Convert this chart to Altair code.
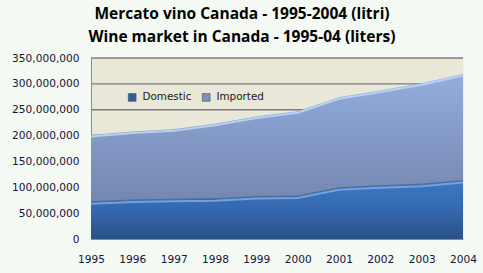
import altair as alt
import pandas as pd

years = [1995, 1996, 1997, 1998, 1999, 2000, 2001, 2002, 2003, 2004]
domestic_m = [72, 75.5, 77, 78, 82, 83, 99, 103, 106, 113]
imported_m = [129, 132.5, 135, 145, 155, 164, 175, 184, 195, 206]
series = ["Domestic", "Imported"]
y_ticks = [0, 50e6, 100e6, 150e6, 200e6, 250e6, 300e6, 350e6]
title_lines = ["Mercato vino Canada - 1995-2004 (litri)",
               "Wine market in Canada - 1995-04 (liters)"]

df = pd.DataFrame({
    "year": years,
    "domestic": [d * 1e6 for d in domestic_m],
    "total": [(d + i) * 1e6 for d, i in zip(domestic_m, imported_m)],
})
long_df = pd.DataFrame({
    "year": years * 2,
    "series": [series[0]] * len(years) + [series[1]] * len(years),
    "value": [d * 1e6 for d in domestic_m] + [i * 1e6 for i in imported_m],
})
grid_df = pd.DataFrame({"tick": y_ticks[1:]})

AX_FONT = "DejaVu Sans"
LBL = "#14143a"

x = alt.X("year:Q",
          scale=alt.Scale(domain=[1995, 2004], nice=False, zero=False),
          axis=alt.Axis(values=years, format="d", title=None, grid=False,
                        ticks=False, labelPadding=15, domainColor="#8c8c8c",
                        labelFont=AX_FONT, labelFontSize=10.6, labelColor=LBL,
                        labelFlush=False, labelOverlap=False))
y_scale = alt.Scale(domain=[0, 350e6], nice=False)
y_axis = alt.Axis(values=y_ticks, format=",d", title=None, grid=False,
                  ticks=False, labelPadding=12,
                  domainColor="#8c8c8c", labelFont=AX_FONT,
                  labelFontSize=10.6, labelColor=LBL, labelOverlap=False)


def Y(field):
    return alt.Y(field, scale=y_scale, axis=y_axis)


grad_imp = alt.Gradient(gradient="linear",
                        stops=[alt.GradientStop(color="#93AEDD", offset=0),
                               alt.GradientStop(color="#8399C6", offset=0.5),
                               alt.GradientStop(color="#7487B0", offset=1)],
                        x1=0, x2=0, y1=0, y2=1)
grad_dom = alt.Gradient(gradient="linear",
                        stops=[alt.GradientStop(color="#3C78C4", offset=0),
                               alt.GradientStop(color="#3568AE", offset=0.5),
                               alt.GradientStop(color="#2A528A", offset=1)],
                        x1=0, x2=0, y1=0, y2=1)

base = alt.Chart(df)

grid = alt.Chart(grid_df).mark_rule(color="#7c7c7c", strokeWidth=1.4).encode(
    y=Y("tick:Q"))
imp_area = base.mark_area(fill=grad_imp).encode(
    x=x, y=Y("total:Q"), y2="domestic:Q")
dom_area = base.mark_area(fill=grad_dom).encode(x=x, y=Y("domestic:Q"))
imp_hl = base.mark_line(color="#B7D2F6", strokeWidth=2, yOffset=1.5).encode(
    x=x, y=Y("total:Q"))
dom_edge = base.mark_line(color="#56668C", strokeWidth=1).encode(
    x=x, y=Y("domestic:Q"))
dom_hl = base.mark_line(color="#6FA3E4", strokeWidth=2, yOffset=2).encode(
    x=x, y=Y("domestic:Q"))

legend_layer = alt.Chart(long_df).mark_point(shape="square", filled=True, size=0).encode(
    x=x, y=Y("value:Q"),
    color=alt.Color("series:N",
                    scale=alt.Scale(domain=series, range=["#2F5E9E", "#7E90B8"]),
                    legend=alt.Legend(orient="none", legendX=36, legendY=34,
                                      direction="horizontal", title=None,
                                      symbolType="square", symbolSize=60,
                                      symbolOpacity=1, symbolStrokeColor="#44506a",
                                      symbolStrokeWidth=0.6, labelFont=AX_FONT,
                                      labelFontSize=10.4, labelColor="#1a1a1a",
                                      labelOffset=5, columnPadding=9)))

chart = alt.layer(grid, imp_area, dom_area, imp_hl, dom_edge, dom_hl, legend_layer).properties(
    width=372, height=181,
    padding={"left": 91, "top": 58, "right": 20, "bottom": 34},
    autosize=alt.AutoSizeParams(type="none"),
    title=alt.TitleParams(text=title_lines, font="Open Sans", fontSize=15.5,
                          fontWeight="bold", color="#000000", anchor="middle",
                          dx=-35, offset=8, lineHeight=23),
    background="#F5FAF5",
).configure_view(fill="#E9E7D8", stroke="transparent")

chart.save("out.html", embed_options={"renderer": "svg", "actions": False})
